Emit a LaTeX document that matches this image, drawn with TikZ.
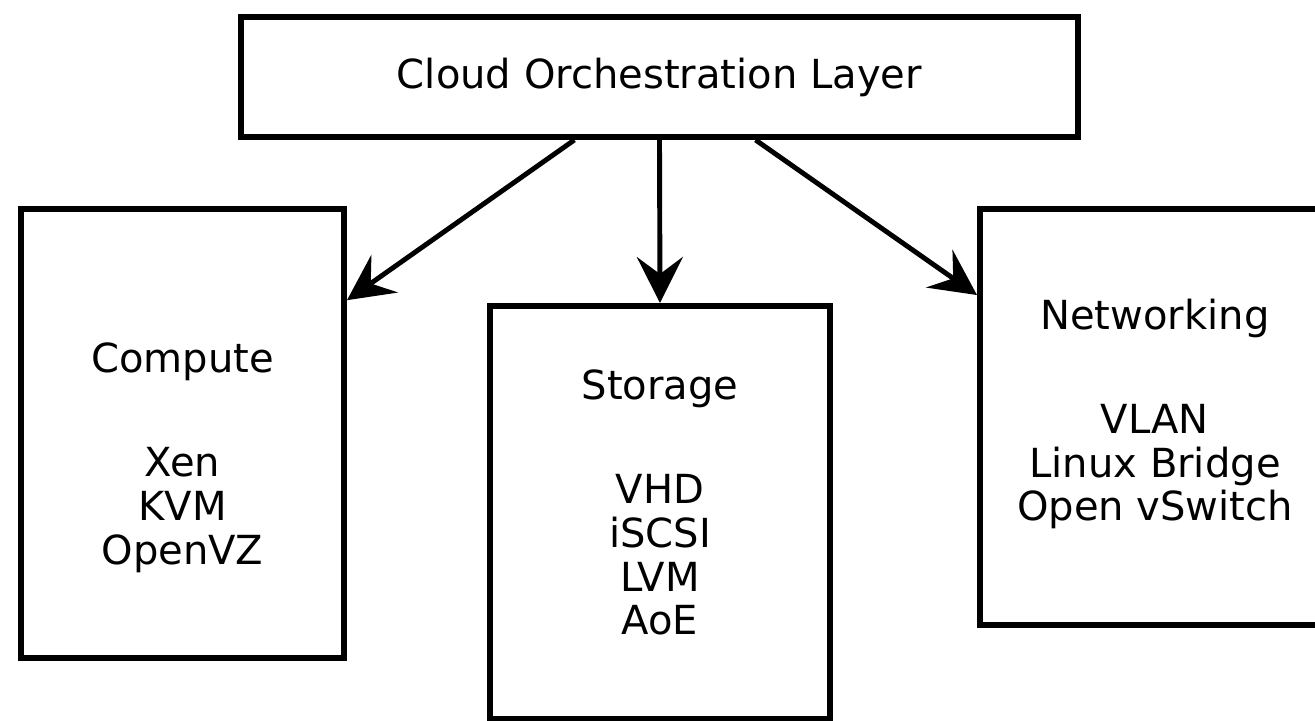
\documentclass[tikz,border=0pt]{standalone}
\usepackage{fontspec}
\setmainfont{DejaVu Sans}
\usetikzlibrary{calc,arrows.meta}
\tikzset{layer/.style={draw, line width=1.7pt, inner sep=0pt},
         ltext/.style={align=center, inner sep=0pt, font=\fontsize{11.4}{12.5}\selectfont},
         feed/.style={line width=1.4pt, -{Stealth[length=4.6mm, width=4.6mm, inset=1.7mm]}}}

\begin{document}
\begin{tikzpicture}

  \useasboundingbox (0,0) rectangle (13.15,7.21);

  % ---------- orchestration on top ----------
  \node[layer, minimum width=8.37cm, minimum height=1.2cm] (cloud) at (6.595,6.44) {};
  \node[ltext] (cloudtxt) at (cloud.center) {Cloud Orchestration Layer};

  % ---------- the three services ----------
  \node[layer, minimum width=3.23cm, minimum height=4.49cm] (compute) at (1.825,2.875) {};
  \node[ltext] (computetxt) at ([yshift=-0.24cm]compute.center)
        {Compute\\[0.6cm] Xen\\ KVM\\ OpenVZ};

  \node[layer, minimum width=3.40cm, minimum height=4.13cm] (storage) at (6.60,2.085) {};
  \node[ltext] (storagetxt) at ([yshift=0.10cm]storage.center)
        {Storage\\[0.6cm] VHD\\ iSCSI\\ LVM\\ AoE};

  \node[layer, minimum width=3.50cm, minimum height=4.16cm] (network) at (11.55,3.04) {};
  \node[ltext] (networktxt) at ([yshift=0.03cm]network.center)
        {Networking\\[0.6cm] VLAN\\ Linux Bridge\\ Open vSwitch};

  % ---------- arrows down ----------
  \draw[feed] ($(cloud.south west)!0.399!(cloud.south east)$)
        -- ($(compute.north east)!0.207!(compute.south east)$);
  \draw[feed] (cloud.south) -- (storage.north);
  \draw[feed] ($(cloud.south west)!0.614!(cloud.south east)$)
        -- ($(network.north west)!0.211!(network.south west)$);

\end{tikzpicture}
\end{document}
